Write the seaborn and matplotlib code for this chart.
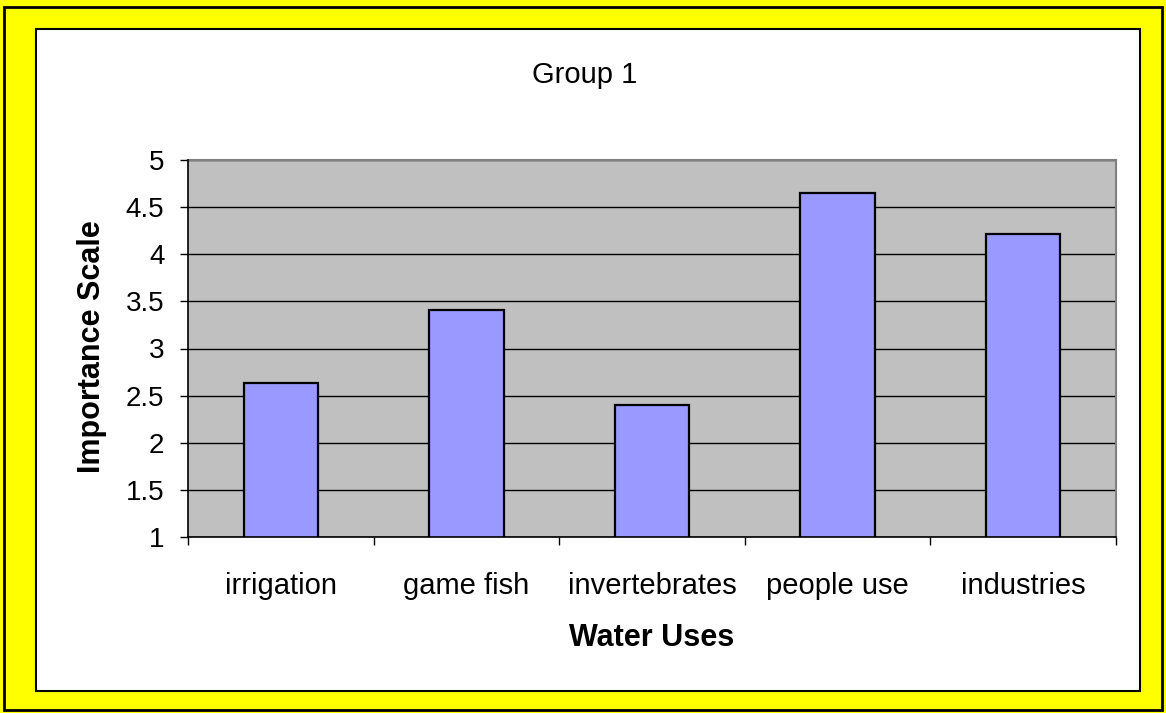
import matplotlib
matplotlib.use("Agg")
import matplotlib.pyplot as plt
import seaborn as sns
import pandas as pd
from matplotlib.patches import Rectangle

categories = ["irrigation", "game fish", "invertebrates", "people use", "industries"]
values = [2.63, 3.41, 2.40, 4.65, 4.22]
yticks = [1, 1.5, 2, 2.5, 3, 3.5, 4, 4.5, 5]
ytick_labels = ["1", "1.5", "2", "2.5", "3", "3.5", "4", "4.5", "5"]

sns.set_style("white")
plt.rcParams['font.family'] = ['Liberation Sans', 'DejaVu Sans']
plt.rcParams['text.color'] = 'black'
plt.rcParams['axes.labelcolor'] = 'black'
plt.rcParams['xtick.color'] = 'black'
plt.rcParams['ytick.color'] = 'black'

df = pd.DataFrame({"use": categories, "score": values})

W, H = 1166, 713
fig = plt.figure(figsize=(W / 100, H / 100), dpi=100)
fig.patch.set_facecolor("#FFFF00")
# outer border
fig.patches.append(Rectangle((4 / W, 3 / H), 1158 / W, 703 / H, transform=fig.transFigure,
                             fill=False, edgecolor="black", linewidth=2, zorder=-2))
# inner white panel
fig.patches.append(Rectangle((36 / W, 1 - 691 / H), 1104 / W, 662 / H, transform=fig.transFigure,
                             facecolor="white", edgecolor="black", linewidth=1.5, zorder=-1))

ax = fig.add_axes([188 / W, 1 - 537 / H, 928 / W, 377 / H])
ax.set_zorder(1)
ax.set_facecolor("#C0C0C0")

sns.barplot(data=df, x="use", y="score", ax=ax, color="#9999FF", width=0.4,
            edgecolor="black", linewidth=1.6, saturation=1, zorder=3)

ax.set_ylim(1, 5)
ax.set_xlim(-0.5, len(categories) - 0.5)
ax.set_yticks(yticks)
ax.set_yticklabels(ytick_labels)
ax.yaxis.grid(True, color="black", linewidth=1.0)
ax.set_axisbelow(True)

ax.tick_params(axis="y", which="major", direction="out", length=6, width=1, color="black",
               labelsize=20, pad=11, left=True, labelcolor="black")
ax.set_xticks(range(len(categories)))
ax.set_xticklabels(categories)
ax.tick_params(axis="x", which="major", length=0, labelsize=21, pad=25, labelcolor="black")
ax.set_xticks([i - 0.5 for i in range(len(categories) + 1)], minor=True)
ax.tick_params(axis="x", which="minor", direction="out", length=6, width=1, color="black", bottom=True)

for side in ["top", "right"]:
    ax.spines[side].set_visible(True)
    ax.spines[side].set_color("#808080")
    ax.spines[side].set_linewidth(1.5)
for side in ["left", "bottom"]:
    ax.spines[side].set_color("black")
    ax.spines[side].set_linewidth(1.2)
    ax.spines[side].set_zorder(5)

ax.set_xlabel("Water Uses", fontsize=22, fontweight="bold", color="black")
ax.set_ylabel("Importance Scale", fontsize=22, fontweight="bold", color="black")
ax.xaxis.set_label_coords(0.5, (537 - 623) / 377)
ax.yaxis.set_label_coords((107 - 188) / 928, 0.505)

fig.text(585 / W, 1 - 83 / H, "Group 1", fontsize=21, ha="center", va="baseline", color="black")

fig.savefig("out.png", dpi=100, facecolor=fig.get_facecolor())
